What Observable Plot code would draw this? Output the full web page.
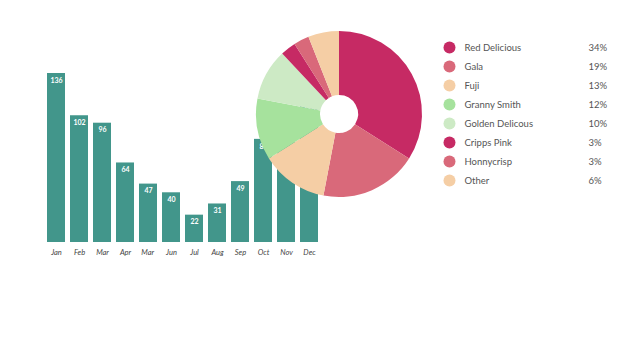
<!DOCTYPE html>
<html>
<head>
<meta charset="utf-8">
<script src="https://cdn.jsdelivr.net/npm/d3@7"></script>
<script src="https://cdn.jsdelivr.net/npm/@observablehq/plot@0.6"></script>
<style>
  html, body { margin: 0; padding: 0; background: #fff; }
  #wrap { position: relative; width: 640px; height: 360px; font-family: Lato, "Open Sans", sans-serif; }
  #wrap svg { position: absolute; left: 0; top: 0; }
</style>
</head>
<body>
<div id="wrap"></div>
<script>
const months = ["Jan","Feb","Mar","Apr","Mar ","Jun","Jul","Aug","Sep","Oct","Nov","Dec"];
const monthLabels = ["Jan","Feb","Mar","Apr","Mar","Jun","Jul","Aug","Sep","Oct","Nov","Dec"];
const sales = [136, 102, 96, 64, 47, 40, 22, 31, 49, 83, 95, 112];

const apples = ["Red Delicious","Gala","Fuji","Granny Smith","Golden Delicous","Cripps Pink","Honnycrisp","Other"];
const shares = [34, 19, 13, 12, 10, 3, 3, 6];
const appleColors = ["#c62a64","#d9697a","#f5cea5","#a6e29d","#cdeac5","#c62a64","#d9697a","#f5cea5"];

const barData = months.map((m, i) => ({month: m, label: monthLabels[i], value: sales[i]}));
const pieData = apples.map((a, i) => ({name: a, share: shares[i]}));

const wrap = document.getElementById("wrap");

const bars = Plot.plot({
  width: 640,
  height: 360,
  marginTop: 73,
  marginBottom: 118,
  marginLeft: 41,
  marginRight: 317,
  style: {fontFamily: "Lato, 'Open Sans', sans-serif", background: "transparent"},
  x: {domain: months, padding: 0.22, tickFormat: (d) => d.trim()},
  y: {domain: [0, 136], axis: null},
  marks: [
    Plot.barY(barData, {x: "month", y: "value", fill: "#42968b"}),
    Plot.text(barData, {x: "month", y: "value", text: d => String(d.value), dy: 7, fill: "#ffffff", fontSize: 7, fontWeight: "bold"}),
    Plot.axisX({tickSize: 0, tickPadding: 7, fontSize: 7.5, fontStyle: "italic", fill: "#444", label: null})
  ]
});
wrap.appendChild(bars);

const cx = 339, cy = 114, rOuter = 83, rInner = 19;

const pieMark = (index, scales, values, dimensions, context) => {
  const color = (scales && scales.color) ? scales.color : d3.scaleOrdinal(apples, appleColors);
  const arcs = d3.pie().sort(null).value(d => d.share)(pieData);
  const arc = d3.arc().innerRadius(rInner).outerRadius(rOuter);
  const g = d3.create("svg:g").attr("transform", `translate(${cx},${cy})`);
  g.selectAll("path").data(arcs).join("path")
    .attr("d", arc)
    .attr("fill", d => color(d.data.name));
  return g.node();
};

const pie = Plot.plot({
  width: 640,
  height: 360,
  marginLeft: 449,
  style: {fontFamily: "Lato, 'Open Sans', sans-serif", background: "transparent"},
  y: {type: "point", domain: apples, range: [45, 182], padding: 0, axis: null},
  color: {domain: apples, range: appleColors},
  marks: [
    pieMark,
    Plot.dot(pieData, {y: "name", fill: "name", r: 6, frameAnchor: "left"}),
    Plot.text(pieData, {y: "name", text: "name", frameAnchor: "left", dx: 15, textAnchor: "start", fill: "#555", fontSize: 9.5}),
    Plot.text(pieData, {y: "name", text: d => d.share + "%", frameAnchor: "left", dx: 139, textAnchor: "start", fill: "#555", fontSize: 9.5})
  ]
});
wrap.appendChild(pie);
</script>
</body>
</html>
